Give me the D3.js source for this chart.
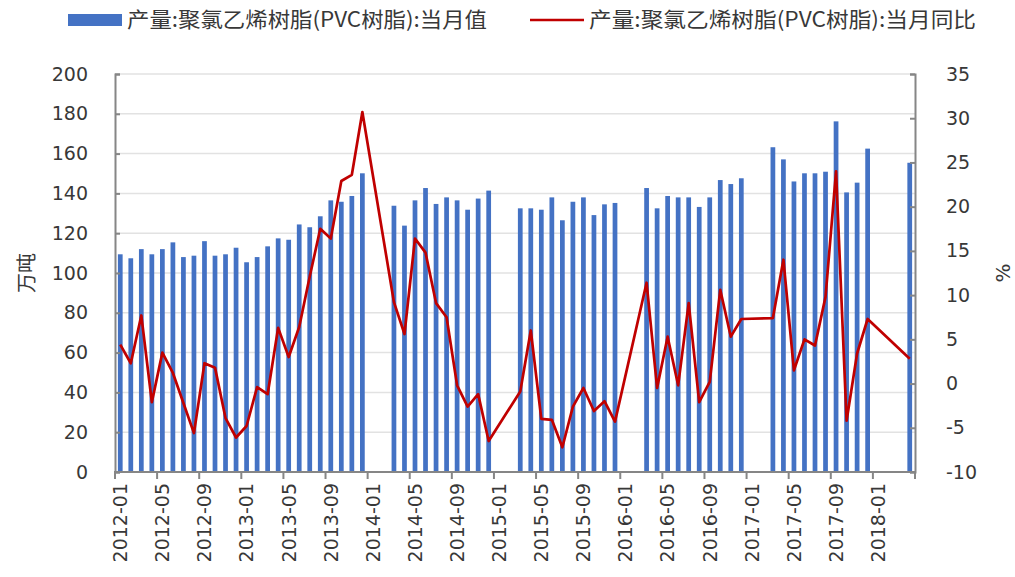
<!DOCTYPE html>
<html>
<head>
<meta charset="utf-8">
<script src="https://d3js.org/d3.v7.min.js"></script>
<style>
  body { margin: 0; background: #fff; }
  text { font-family: "DejaVu Sans", sans-serif; fill: #383838; }
  .cjk { font-family: "Noto Sans CJK SC", sans-serif; }
</style>
</head>
<body>
<script>
var width = 1015, height = 577;
var margin = {top: 74, right: 100, bottom: 105, left: 115};

// months on the category axis
var months = [
  "2012-01","2012-02","2012-03","2012-04","2012-05","2012-06","2012-07","2012-08","2012-09","2012-10","2012-11","2012-12",
  "2013-01","2013-02","2013-03","2013-04","2013-05","2013-06","2013-07","2013-08","2013-09","2013-10","2013-11","2013-12",
  "2014-01","2014-02","2014-03","2014-04","2014-05","2014-06","2014-07","2014-08","2014-09","2014-10","2014-11","2014-12",
  "2015-01","2015-02","2015-03","2015-04","2015-05","2015-06","2015-07","2015-08","2015-09","2015-10","2015-11","2015-12",
  "2016-01","2016-02","2016-03","2016-04","2016-05","2016-06","2016-07","2016-08","2016-09","2016-10","2016-11","2016-12",
  "2017-01","2017-02","2017-03","2017-04","2017-05","2017-06","2017-07","2017-08","2017-09","2017-10","2017-11","2017-12",
  "2018-01","2018-02","2018-03","2018-04"
];

// 当月值 (万吨)
var output = [
  109.4, 107.4, 112, 109.4, 112, 115.4, 108, 108.7, 116, 108.7, 109.4, 112.7,
  105.4, 108, 113.4, 117.4, 116.7, 124.4, 123, 128.5, 136.5, 135.8, 138.7, 150.1,
  null, null, 133.8, 123.8, 136.5, 142.7, 134.7, 138, 136.5, 131.8, 137.4, 141.4,
  null, null, 132.5, 132.5, 131.8, 138, 126.5, 135.8, 138, 129.1, 134.5, 135.2,
  null, null, 142.7, 132.5, 138.7, 138, 138, 133.2, 138, 146.7, 144.7, 147.6,
  null, null, 163.2, 157.1, 146, 150.1, 150.1, 150.9, 176.2, 140.5, 145.4, 162.5,
  null, null, null, 155.4
];

// 当月同比 (%)
var yoy = [
  4.4, 2.3, 7.7, -2.1, 3.5, 1.2, -2.2, -5.6, 2.3, 1.8, -3.9, -6.1,
  -4.8, -0.4, -1.2, 6.3, 3.0, 6.4, 12.1, 17.5, 16.4, 22.9, 23.6, 30.7,
  null, null, 9.2, 5.6, 16.4, 14.8, 9.1, 7.5, -0.2, -2.6, -1.2, -6.5,
  null, null, -0.9, 6.0, -4.0, -4.1, -7.2, -2.6, -0.5, -3.1, -2.0, -4.3,
  null, null, 11.4, -0.5, 5.3, -0.2, 9.1, -2.1, 0.2, 10.6, 5.3, 7.3,
  null, null, 7.4, 14.0, 1.5, 5.0, 4.3, 9.8, 24.0, -4.2, 3.4, 7.3,
  null, null, null, 2.8
];

var leftTicks = [0, 20, 40, 60, 80, 100, 120, 140, 160, 180, 200];
var rightTicks = [-10, -5, 0, 5, 10, 15, 20, 25, 30, 35];
var xLabels = ["2012-01","2012-05","2012-09","2013-01","2013-05","2013-09","2014-01","2014-05","2014-09",
  "2015-01","2015-05","2015-09","2016-01","2016-05","2016-09","2017-01","2017-05","2017-09","2018-01"];

var barName = "产量:聚氯乙烯树脂(PVC树脂):当月值";
var lineName = "产量:聚氯乙烯树脂(PVC树脂):当月同比";

var axisColor = "#868686";
var barColor = "#4472C4";
var lineColor = "#C00000";

var x0 = margin.left, x1 = width - margin.right;
var y0 = height - margin.bottom, y1 = margin.top;

var svg = d3.select("body").append("svg")
  .attr("width", width)
  .attr("height", height);

var x = d3.scaleBand().domain(months).range([x0, x1]).padding(0);
var yL = d3.scaleLinear().domain([0, 200]).range([y0, y1]);
var yR = d3.scaleLinear().domain([-10, 35]).range([y0, y1]);

// gridlines
svg.append("g").selectAll("line")
  .data(leftTicks.slice(1))
  .enter().append("line")
  .attr("x1", x0).attr("x2", x1)
  .attr("y1", function(d){ return yL(d); })
  .attr("y2", function(d){ return yL(d); })
  .attr("stroke", "#e2e2e2")
  .attr("stroke-width", 1.5);

// bars
var bw = x.bandwidth() * 0.45;
var rows = months.map(function(m, i){ return {m: m, v: output[i], p: yoy[i]}; });

svg.append("g").selectAll("rect")
  .data(rows.filter(function(d){ return d.v != null; }))
  .enter().append("rect")
  .attr("x", function(d){ return x(d.m) + (x.bandwidth() - bw) / 2; })
  .attr("y", function(d){ return yL(d.v); })
  .attr("width", bw)
  .attr("height", function(d){ return y0 - yL(d.v); })
  .attr("fill", barColor);

// line, missing months are skipped and the points joined
var line = d3.line()
  .x(function(d){ return x(d.m) + x.bandwidth() / 2; })
  .y(function(d){ return yR(d.p); });

svg.append("path")
  .datum(rows.filter(function(d){ return d.p != null; }))
  .attr("d", line)
  .attr("fill", "none")
  .attr("stroke", lineColor)
  .attr("stroke-width", 2.7)
  .attr("stroke-linejoin", "round");

// left axis
var gl = svg.append("g").attr("transform", "translate(" + x0 + ",0)")
  .call(d3.axisLeft(yL).tickValues(leftTicks).tickFormat(String).tickSize(-5).tickPadding(27));
// right axis
var gr = svg.append("g").attr("transform", "translate(" + x1 + ",0)")
  .call(d3.axisRight(yR).tickValues(rightTicks).tickFormat(String).tickSize(-5).tickPadding(31));
[gl, gr].forEach(function(g){
  g.select(".domain").attr("stroke", axisColor).attr("stroke-width", 2);
  g.selectAll(".tick line").attr("stroke", axisColor).attr("stroke-width", 2);
  g.selectAll(".tick text").attr("font-size", 19).attr("fill", "#383838")
    .attr("font-family", "DejaVu Sans, sans-serif");
});

// bottom axis
svg.append("line")
  .attr("x1", x0 - 1).attr("x2", x1 + 1)
  .attr("y1", y0).attr("y2", y0)
  .attr("stroke", axisColor).attr("stroke-width", 2);

var tickMonths = months.filter(function(m, i){ return i % 4 === 0; });
svg.append("g").selectAll("line")
  .data(tickMonths.concat(["end"]))
  .enter().append("line")
  .attr("x1", function(d){ return d === "end" ? x1 : x(d); })
  .attr("x2", function(d){ return d === "end" ? x1 : x(d); })
  .attr("y1", y0).attr("y2", y0 + 7)
  .attr("stroke", axisColor).attr("stroke-width", 2);

svg.append("g").selectAll("text")
  .data(xLabels)
  .enter().append("text")
  .attr("transform", function(d){
    return "translate(" + (x(d) + x.bandwidth() / 2) + "," + (y0 + 11) + ") rotate(-90)";
  })
  .attr("text-anchor", "end")
  .attr("dy", "0.36em")
  .attr("font-size", 19)
  .text(function(d){ return d; });

// axis titles
svg.append("text").attr("class", "cjk")
  .attr("transform", "translate(27," + ((y0 + y1) / 2) + ") rotate(-90)")
  .attr("text-anchor", "middle").attr("dy", "0.35em")
  .attr("font-size", 20)
  .text("万吨");
svg.append("text")
  .attr("transform", "translate(1003," + ((y0 + y1) / 2) + ") rotate(-90)")
  .attr("text-anchor", "middle").attr("dy", "0.35em")
  .attr("font-size", 20)
  .text("%");

// legend
svg.append("rect")
  .attr("x", 68).attr("y", 14).attr("width", 54).attr("height", 12)
  .attr("fill", barColor);
svg.append("text").attr("class", "cjk")
  .attr("x", 127).attr("y", 20).attr("dy", "0.35em")
  .attr("font-size", 21)
  .attr("textLength", 360).attr("lengthAdjust", "spacingAndGlyphs")
  .text(barName);
svg.append("line")
  .attr("x1", 530).attr("x2", 584).attr("y1", 20).attr("y2", 20)
  .attr("stroke", lineColor).attr("stroke-width", 2.7);
svg.append("text").attr("class", "cjk")
  .attr("x", 589).attr("y", 20).attr("dy", "0.35em")
  .attr("font-size", 21)
  .attr("textLength", 387).attr("lengthAdjust", "spacingAndGlyphs")
  .text(lineName);
</script>
</body>
</html>
